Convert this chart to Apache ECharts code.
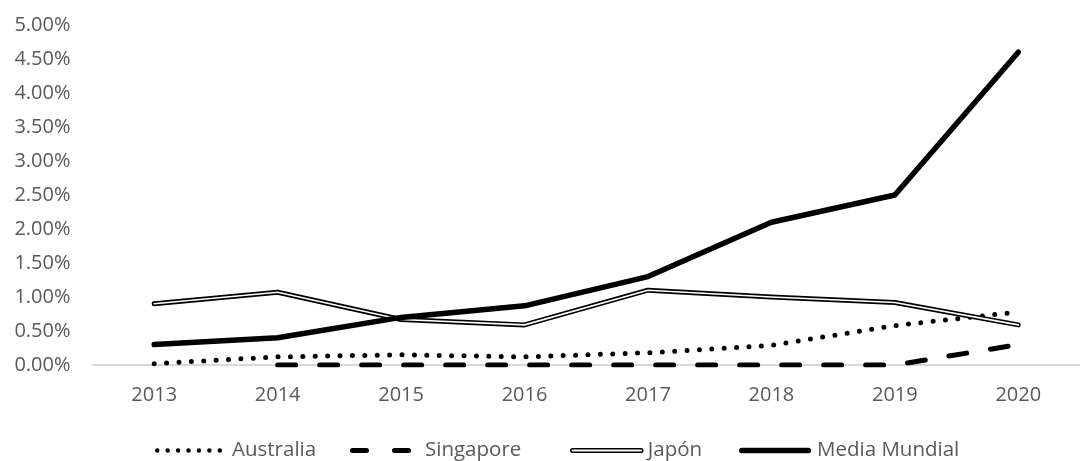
<!DOCTYPE html>
<html>
<head>
<meta charset="utf-8">
<script src="https://cdn.jsdelivr.net/npm/echarts@6/dist/echarts.min.js"></script>
<style>
  html, body { margin: 0; padding: 0; background: #fff; }
  #chart { width: 1080px; height: 461px; }
</style>
</head>
<body>
<div id="chart"></div>
<script>
// Years on the category axis
const years = ['2013', '2014', '2015', '2016', '2017', '2018', '2019', '2020'];

// Growth rates, in percent
const australia     = [0.02, 0.12, 0.15, 0.12, 0.18, 0.29, 0.58, 0.78];
const singapore     = [null, 0, 0, 0, 0, 0, 0, 0.30];
const japon         = [0.90, 1.07, 0.67, 0.59, 1.10, 1.00, 0.92, 0.59];
const mediaMundial  = [0.30, 0.40, 0.70, 0.87, 1.30, 2.10, 2.50, 4.60];

const textColor = '#595959';
const fontFamily = '"Open Sans", sans-serif';

// ---- legend key glyphs (SVG paths) ----
function dotsPath(n, r, step) {
  let d = '';
  for (let i = 0; i < n; i++) {
    const cx = r + i * step;
    d += `M${cx - r},${r} a${r},${r} 0 1 0 ${2 * r},0 a${r},${r} 0 1 0 ${-2 * r},0 Z `;
  }
  return 'path://' + d.trim();
}
function pillPath(a, b, h) {
  const r = h / 2;
  return `M${a + r},0 L${b - r},0 A${r},${r} 0 0 1 ${b - r},${h} L${a + r},${h} A${r},${r} 0 0 1 ${a + r},0 Z`;
}
const dotsIcon   = dotsPath(7, 2.25, 10.42);
const dashIcon   = 'path://' + pillPath(0, 19, 5) + ' ' + pillPath(42, 61, 5);
const doubleIcon = 'path://' + pillPath(0, 72, 3.6);
const solidIcon  = 'path://' + pillPath(0, 72, 5.5);

// One legend per key so each sits where it belongs in the row
function legendEntry(name, icon, iconLeft, iconW, iconH, gap, itemStyle) {
  const extra = gap - 5;
  return {
    data: [{ name, icon, itemStyle }],
    left: iconLeft - extra,
    top: 440,
    padding: 0,
    itemWidth: iconW + 2 * extra,
    itemHeight: iconH,
    selectedMode: false,
    textStyle: { color: textColor, fontFamily, fontSize: 20.5 }
  };
}

const chart = echarts.init(document.getElementById('chart'), null, { renderer: 'canvas' });

chart.setOption({
  animation: false,
  backgroundColor: '#ffffff',
  grid: { left: 92.5, right: -12.5, top: 25, bottom: 96, containLabel: false },
  legend: [
    legendEntry('Australia', dotsIcon, 160, 67, 4.5, 10, { color: '#000' }),
    legendEntry('Singapore', dashIcon, 359, 61, 5, 14, { color: '#000' }),
    legendEntry('Japón', doubleIcon, 570, 72, 3.6, 5,
      { color: '#fff', borderColor: '#000', borderWidth: 1.6 }),
    legendEntry('Media Mundial', solidIcon, 740, 72, 5.5, 6, { color: '#000' })
  ],
  xAxis: {
    type: 'category',
    data: years,
    boundaryGap: true,
    axisLine: { lineStyle: { color: '#d9d9d9', width: 2 } },
    axisTick: { show: false },
    axisLabel: { color: textColor, fontFamily, fontSize: 20, margin: 20 },
    splitLine: { show: false }
  },
  yAxis: {
    type: 'value',
    min: 0,
    max: 5,
    interval: 0.5,
    axisLine: { show: false },
    axisTick: { show: false },
    splitLine: { show: false },
    axisLabel: {
      color: textColor, fontFamily, fontSize: 20, margin: 22,
      formatter: v => v.toFixed(2) + '%'
    }
  },
  series: [
    {
      name: 'Australia',
      type: 'line',
      data: australia,
      symbol: 'none',
      lineStyle: { color: '#000', width: 5, type: [0, 12.4], cap: 'round' },
      itemStyle: { color: '#000' },
      z: 2
    },
    {
      name: 'Singapore',
      type: 'line',
      data: singapore,
      symbol: 'none',
      lineStyle: { color: '#000', width: 5, type: [18, 24], cap: 'round' },
      itemStyle: { color: '#000' },
      z: 2
    },
    {
      name: 'Japón',
      type: 'line',
      data: japon,
      symbol: 'none',
      lineStyle: { color: '#000', width: 5, cap: 'round', join: 'round' },
      itemStyle: { color: '#000' },
      z: 3
    },
    {
      name: 'Japón-inner',
      type: 'line',
      data: japon,
      symbol: 'none',
      silent: true,
      lineStyle: { color: '#fff', width: 1.6, cap: 'round', join: 'round' },
      z: 4
    },
    {
      name: 'Media Mundial',
      type: 'line',
      data: mediaMundial,
      symbol: 'none',
      lineStyle: { color: '#000', width: 5.5, cap: 'round', join: 'round' },
      itemStyle: { color: '#000' },
      z: 5
    }
  ]
});
</script>
</body>
</html>
